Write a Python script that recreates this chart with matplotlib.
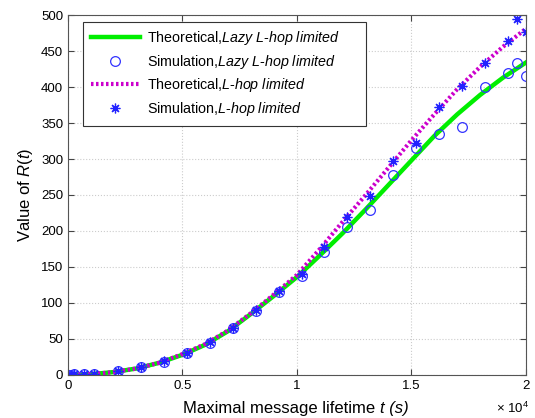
import numpy as np
import matplotlib.pyplot as plt
from matplotlib.ticker import FuncFormatter

plt.rcParams['font.family'] = ['Liberation Sans', 'DejaVu Sans']
plt.rcParams['mathtext.fontset'] = 'custom'
plt.rcParams['mathtext.rm'] = 'Liberation Sans'
plt.rcParams['mathtext.it'] = 'Liberation Sans:italic'

# theoretical curves, R(t) every 1000 s
t_theory = np.arange(0, 20001, 1000)
r_lazy_theory = [0, 1, 4, 9, 17, 28, 42, 61, 85, 110, 136, 166, 197, 230, 264,
                 298, 332, 362, 389, 413, 434]
r_lhop_theory = [0, 1, 4, 9, 17, 29, 43, 62, 86, 112, 139, 175, 213, 250, 288,
                 326, 362, 397, 428, 456, 481]

# simulation results
t_sim = [0, 130, 270, 700, 1150, 2200, 3200, 4200, 5200, 6200, 7200, 8200, 9200,
         10200, 11200, 12200, 13200, 14200, 15200, 16200, 17200, 18200, 19200,
         19600, 20000]
r_lazy_sim = [0, 0.5, 1, 1.5, 2, 6, 11, 18, 31, 45, 65, 89, 115, 138, 171, 206,
              229, 278, 315, 335, 345, 400, 419, 433, 416]
r_lhop_sim = [0, 0.5, 1, 1.5, 2, 6, 11, 19, 31, 46, 65, 90, 116, 140, 178, 220,
              248, 297, 322, 372, 401, 434, 464, 494, 476]

fig = plt.figure(figsize=(5.35, 4.18), dpi=100)
ax = fig.add_axes([0.127, 0.103, 0.856, 0.861])

pad = '      '
ax.plot(t_theory, r_lazy_theory, color='#00ee00', lw=3.2,
        label='Theoretical,$\\it{Lazy\\ L\u2010hop\\ limited}$' + pad)
ax.plot(t_sim, r_lazy_sim, 'o', mfc='none', mec='#3333ff', ms=7, mew=0.9,
        label='Simulation,$\\it{Lazy\\ L\u2010hop\\ limited}$')
ax.plot(t_theory, r_lhop_theory, color='#cc00cc', lw=3.0, ls=(0, (0.6, 0.6)),
        label='Theoretical,$\\it{L\u2010hop\\ limited}$')
ax.plot(t_sim, r_lhop_sim, ls='none', marker=(8, 2, 0), color='#2222ff', ms=7,
        mew=0.9, label='Simulation,$\\it{L\u2010hop\\ limited}$')

ax.set_xlim(0, 20000)
ax.set_ylim(0, 500)
ax.set_xticks(np.arange(0, 20001, 5000))
ax.set_yticks(np.arange(0, 501, 50))
ax.xaxis.set_major_formatter(FuncFormatter(lambda v, p: '%g' % (v / 1e4)))
ax.tick_params(direction='in', top=True, right=True, labelsize=9.5,
               length=4, color='#444444')
ax.grid(True, ls=':', color='#cccccc', lw=0.8)
for s in ax.spines.values():
    s.set_color('#555555')

# x label: upright part followed by italic "t (s)"
xl = fig.text(0.342, 0.012, 'Maximal message lifetime ', fontsize=12)
ax.annotate('t (s)', xy=(1, 0), xycoords=xl, va='bottom', fontsize=12,
            style='italic')
ax.set_ylabel('Value of $\\it{R(t)}$', fontsize=12, labelpad=4)
fig.text(0.99, 0.012, '× 10$^4$', fontsize=9.5, ha='right')

leg = ax.legend(loc='upper left', bbox_to_anchor=(0.033, 0.982), fontsize=10.3,
                handlelength=3.4, handletextpad=0.5, fancybox=False, framealpha=1,
                borderaxespad=0, labelspacing=0.38, borderpad=0.55)
leg.get_frame().set_edgecolor('#333333')
leg.get_frame().set_linewidth(0.8)

fig.savefig('out.png', dpi=100)
